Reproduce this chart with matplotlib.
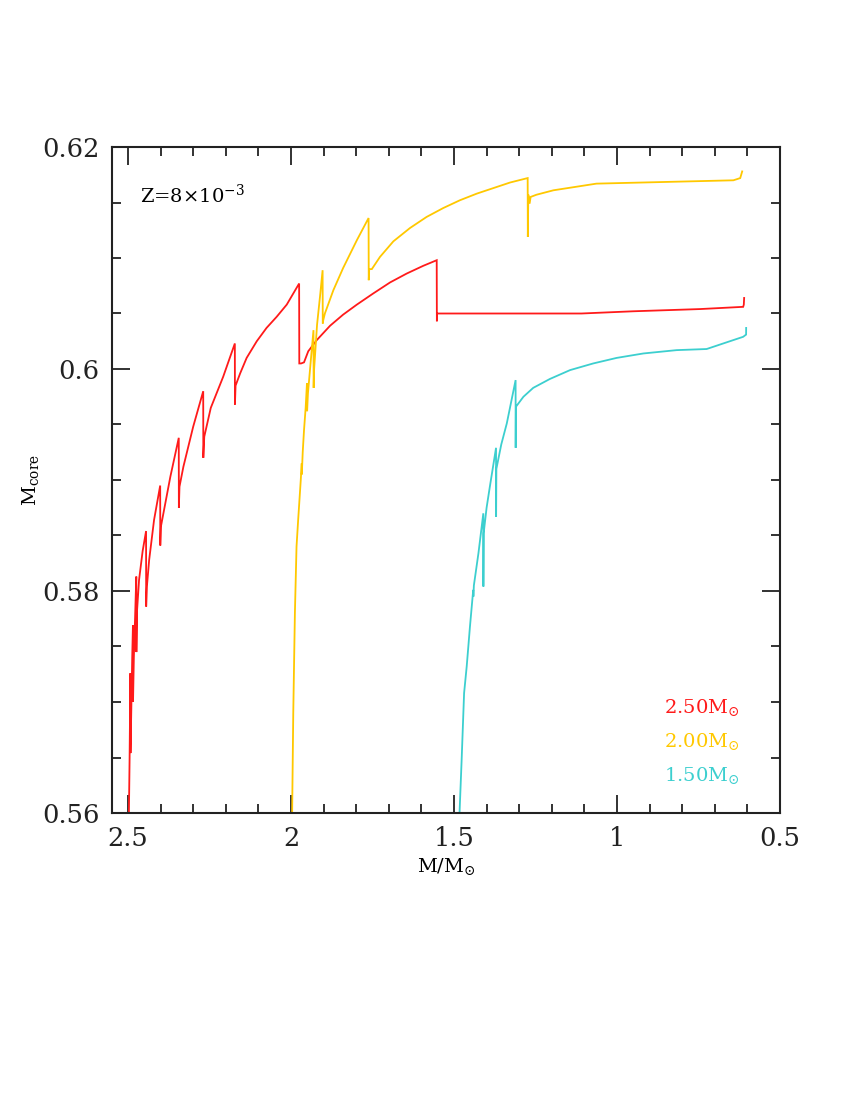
import matplotlib
matplotlib.use("Agg")
import matplotlib.pyplot as plt
from matplotlib.ticker import MultipleLocator, FuncFormatter

# ---- data ----
m_250 = [2.498, 2.495, 2.4925, 2.4922, 2.490, 2.487, 2.4848, 2.4845, 2.482, 2.478,
         2.4745, 2.4742, 2.472, 2.466, 2.455, 2.4445, 2.4442, 2.442, 2.435, 2.420,
         2.4012, 2.4009, 2.399, 2.390, 2.370, 2.3442, 2.3439, 2.342, 2.330, 2.300,
         2.2692, 2.2689, 2.266, 2.246, 2.208, 2.1722, 2.1719, 2.170, 2.156, 2.136,
         2.105, 2.075, 2.044, 2.013, 1.975, 1.9745, 1.969, 1.960, 1.947, 1.921,
         1.880, 1.840, 1.798, 1.748, 1.696, 1.645, 1.594, 1.553, 1.5525, 1.552,
         1.550, 1.109, 0.950, 0.745, 0.613, 0.611, 0.610]
core_250 = [0.5580, 0.5650, 0.5726, 0.5654, 0.5690, 0.5740, 0.5769, 0.5700, 0.5740, 0.5778,
            0.5813, 0.5745, 0.5783, 0.5810, 0.5836, 0.5854, 0.5786, 0.5804, 0.5828, 0.5864,
            0.5895, 0.5841, 0.5858, 0.5872, 0.5903, 0.5938, 0.5875, 0.5894, 0.5912, 0.5948,
            0.5980, 0.5920, 0.5939, 0.5965, 0.5993, 0.6023, 0.5968, 0.5985, 0.5996, 0.6010,
            0.6025, 0.6037, 0.6047, 0.6058, 0.6077, 0.6005, 0.6005, 0.6006, 0.6016, 0.6026,
            0.6039, 0.6049, 0.6058, 0.6068, 0.6078, 0.6086, 0.6093, 0.6098, 0.6043, 0.6050,
            0.6050, 0.6050, 0.6052, 0.6054, 0.6056, 0.6058, 0.6064]

m_200 = [1.998, 1.993, 1.988, 1.983, 1.978, 1.970, 1.967, 1.9668, 1.964, 1.960,
         1.955, 1.951, 1.9505, 1.948, 1.940, 1.931, 1.9305, 1.929, 1.920, 1.910,
         1.903, 1.9025, 1.901, 1.896, 1.870, 1.840, 1.798, 1.762, 1.7615,
         1.760, 1.752, 1.727, 1.686, 1.635, 1.584, 1.533, 1.482, 1.430, 1.379,
         1.328, 1.274, 1.2735, 1.272, 1.268, 1.265, 1.247, 1.195, 1.063, 0.643,
         0.622, 0.616]
core_200 = [0.5560, 0.5690, 0.5780, 0.5840, 0.5864, 0.5900, 0.5915, 0.5905, 0.5925, 0.5945,
            0.5965, 0.5987, 0.5962, 0.5978, 0.6005, 0.6035, 0.5983, 0.6000, 0.6040, 0.6068,
            0.6089, 0.6041, 0.6044, 0.6050, 0.6071, 0.6091, 0.6116, 0.6136, 0.6080,
            0.6090, 0.6090, 0.6101, 0.6115, 0.6127, 0.6137, 0.6145, 0.6152, 0.6158, 0.6163,
            0.6168, 0.6172, 0.6119, 0.6157, 0.6149, 0.6155, 0.6157, 0.6161, 0.6167, 0.6170,
            0.6172, 0.6178]

m_150 = [1.4845, 1.483, 1.4765, 1.469, 1.461, 1.451, 1.441, 1.4405, 1.439, 1.425,
         1.410, 1.4098, 1.409, 1.400, 1.390, 1.371, 1.3708, 1.370, 1.355, 1.338,
         1.311, 1.3108, 1.310, 1.287, 1.257, 1.206, 1.144, 1.073, 1.001, 0.919,
         0.817, 0.725, 0.664, 0.613, 0.604, 0.6038]
core_150 = [0.5590, 0.5600, 0.5648, 0.5708, 0.5732, 0.5768, 0.5801, 0.5795, 0.5805, 0.5834,
            0.5870, 0.5804, 0.5852, 0.5875, 0.5894, 0.5929, 0.5867, 0.5910, 0.5932, 0.5951,
            0.5990, 0.5929, 0.5966, 0.5975, 0.5983, 0.5991, 0.5999, 0.6005, 0.6010, 0.6014,
            0.6017, 0.6018, 0.6024, 0.6029, 0.6031, 0.6037]

labels = [r"2.50M$_{\odot}$", r"2.00M$_{\odot}$", r"1.50M$_{\odot}$"]
colors = ["#ff1a1a", "#ffc800", "#3ccfcf"]

# ---- figure ----
plt.rcParams["font.family"] = ["DejaVu Serif"]
plt.rcParams["mathtext.fontset"] = "dejavuserif"

fig = plt.figure(figsize=(8.5, 11), dpi=100)
ax = fig.add_axes([112/850, 1-813/1100, 668/850, 666/1100])

series = [(m_250, core_250), (m_200, core_200), (m_150, core_150)]
for (m, c), col in zip(series, colors):
    ax.plot(m, c, color=col, lw=1.3, solid_joinstyle="miter")

ax.set_xlim(2.549, 0.5)
ax.set_ylim(0.56, 0.62)

ax.xaxis.set_major_locator(MultipleLocator(0.5))
ax.xaxis.set_minor_locator(MultipleLocator(0.1))
ax.yaxis.set_major_locator(MultipleLocator(0.02))
ax.yaxis.set_minor_locator(MultipleLocator(0.005))
fmt = FuncFormatter(lambda v, p: "%g" % round(v, 4))
ax.xaxis.set_major_formatter(fmt)
ax.yaxis.set_major_formatter(fmt)

ax.tick_params(which="both", direction="in", top=True, right=True, width=1.3, colors="#222222")
ax.tick_params(which="major", length=13, labelsize=18.5, pad=9)
ax.tick_params(which="minor", length=6.5)
for s in ax.spines.values():
    s.set_linewidth(1.5)
    s.set_color("#222222")

ax.set_xlabel(r"M/M$_{\odot}$", fontsize=14, labelpad=4)
ax.set_ylabel(r"M$_{\rm core}$", fontsize=14)
ax.yaxis.set_label_coords(-0.106, 0.5)

ax.text(0.042, 0.928, r"Z=8$\times$10$^{-3}$", transform=ax.transAxes,
        fontsize=14, ha="left", va="center")

ys = [0.158, 0.107, 0.057]
for lab, col, y in zip(labels, colors, ys):
    ax.text(0.94, y, lab, transform=ax.transAxes, color=col, fontsize=14,
            ha="right", va="center")

fig.savefig("out.png", dpi=100)
